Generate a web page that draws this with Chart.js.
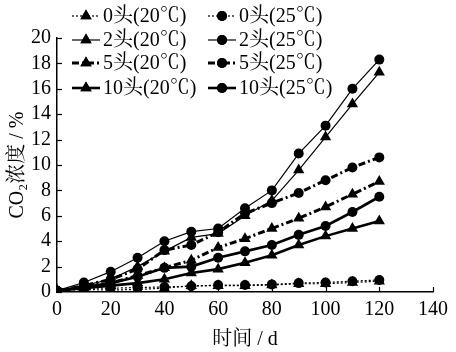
<!DOCTYPE html>
<html>
<head>
<meta charset="utf-8">
<script src="https://cdn.jsdelivr.net/npm/chart.js@4"></script>
<style>
  html, body { margin: 0; padding: 0; background: #fff; }
  #wrap { width: 456px; height: 352px; }
</style>
</head>
<body>
<div id="wrap"><canvas id="myChart" width="456" height="352"></canvas></div>
<script>
// sampling days
const days = [0, 10, 20, 30, 40, 50, 60, 70, 80, 90, 100, 110, 120];

// CO2 concentration (%)
const head0_20 = [0.1, 0.2, 0.15, 0.2, 0.3, 0.5, 0.5, 0.5, 0.55, 0.65, 0.65, 0.75, 0.85];
const head0_25 = [0.1, 0.3, 0.3, 0.35, 0.4, 0.45, 0.55, 0.55, 0.6, 0.7, 0.75, 0.85, 0.95];
const head2_20 = [0.1, 0.5, 1.0, 2.0, 3.2, 4.3, 4.6, 6.0, 7.2, 9.6, 12.2, 14.8, 17.3];
const head2_25 = [0.1, 0.75, 1.6, 2.7, 4.0, 4.75, 5.0, 6.6, 8.0, 10.9, 13.1, 16.0, 18.3];
const head5_20 = [0.1, 0.4, 0.7, 1.3, 1.9, 2.5, 3.5, 4.2, 5.0, 5.8, 6.7, 7.7, 8.7];
const head5_25 = [0.1, 0.5, 1.0, 1.8, 3.3, 3.7, 4.7, 6.2, 7.0, 7.8, 8.8, 9.8, 10.6];
const head10_20 = [0.1, 0.3, 0.5, 0.7, 1.0, 1.5, 1.8, 2.3, 2.9, 3.7, 4.4, 5.0, 5.6];
const head10_25 = [0.1, 0.4, 0.7, 1.2, 1.9, 2.0, 2.7, 3.2, 3.7, 4.5, 5.2, 6.3, 7.5];

const seriesNames = ['0头(20℃)', '0头(25℃)', '2头(20℃)', '2头(25℃)', '5头(20℃)', '5头(25℃)', '10头(20℃)', '10头(25℃)'];

const FONT = "'Liberation Serif', 'Noto Serif CJK SC', 'Noto Sans CJK SC', serif";

const toPoints = arr => arr.map((v, i) => ({ x: days[i], y: v }));

function makeSet(name, values, marker, width, dash) {
    return {
        label: name,
        data: toPoints(values),
        borderColor: '#000',
        backgroundColor: '#000',
        borderWidth: width,
        borderDash: dash,
        pointStyle: marker,
        pointRadius: marker === 'triangle' ? 6.5 : 5,
        pointBorderWidth: 0,
        tension: 0,
    };
}

const dotted = [2, 2];
const dashDot = [7, 3, 2, 3];

const datasets = [
    makeSet(seriesNames[0], head0_20, 'triangle', 1.2, dotted),
    makeSet(seriesNames[1], head0_25, 'circle', 1.2, dotted),
    makeSet(seriesNames[2], head2_20, 'triangle', 1.2, []),
    makeSet(seriesNames[3], head2_25, 'circle', 1.2, []),
    makeSet(seriesNames[4], head5_20, 'triangle', 3, dashDot),
    makeSet(seriesNames[5], head5_25, 'circle', 3, dashDot),
    makeSet(seriesNames[6], head10_20, 'triangle', 2.6, []),
    makeSet(seriesNames[7], head10_25, 'circle', 2.6, []),
];

// inward tick marks
const innerTicks = {
    id: 'innerTicks',
    afterDraw(chart) {
        const ctx = chart.ctx;
        const xs = chart.scales.x, ys = chart.scales.y;
        ctx.save();
        ctx.strokeStyle = '#000';
        ctx.lineWidth = 1.2;
        ys.ticks.forEach(t => {
            const py = Math.round(ys.getPixelForValue(t.value)) + 0.5;
            ctx.beginPath();
            ctx.moveTo(xs.left, py);
            ctx.lineTo(xs.left + 5, py);
            ctx.stroke();
        });
        xs.ticks.forEach(t => {
            const px = Math.round(xs.getPixelForValue(t.value)) + 0.5;
            ctx.beginPath();
            ctx.moveTo(px, ys.bottom);
            ctx.lineTo(px, ys.bottom - 5);
            ctx.stroke();
        });
        ctx.restore();
    }
};

// two-column legend drawn in the upper left
const legendBox = {
    id: 'legendBox',
    afterDraw(chart) {
        const ctx = chart.ctx;
        const rows = [16, 40, 63, 88];
        const cols = [{ x0: 72, x1: 100 }, { x0: 208, x1: 236 }];
        ctx.save();
        ctx.font = '20px ' + FONT;
        ctx.textBaseline = 'middle';
        chart.data.datasets.forEach((ds, i) => {
            const c = cols[i % 2];
            const y = rows[Math.floor(i / 2)];
            ctx.fillStyle = '#fff';
            ctx.fillRect(c.x0 - 2, y - 10, c.x1 - c.x0 + 4 + ctx.measureText(ds.label).width + 4, 20);
            ctx.fillStyle = '#000';
            ctx.strokeStyle = '#000';
            ctx.lineWidth = ds.borderWidth;
            ctx.setLineDash(ds.borderDash || []);
            ctx.beginPath();
            ctx.moveTo(c.x0, y);
            ctx.lineTo(c.x1, y);
            ctx.stroke();
            ctx.setLineDash([]);
            Chart.helpers.drawPoint(ctx, {
                pointStyle: ds.pointStyle,
                radius: ds.pointRadius,
                borderWidth: 0,
                rotation: 0
            }, (c.x0 + c.x1) / 2, y);
            ctx.fill();
            ctx.fillText(ds.label, c.x1 + 3, y + 1);
        });
        ctx.restore();
    }
};

const myCanvas = document.getElementById('myChart').getContext('2d');

const myChart = new Chart(myCanvas, {
    type: 'line',
    data: { datasets: datasets },
    plugins: [innerTicks, legendBox],
    options: {
        responsive: false,
        animation: false,
        layout: { padding: { top: 38, right: 23, left: 0, bottom: 0 } },
        scales: {
            x: {
                type: 'linear',
                min: 0,
                max: 140,
                ticks: { stepSize: 20, autoSkip: false, color: '#000', padding: 6, font: { size: 20, family: FONT } },
                grid: { drawOnChartArea: false, drawTicks: false },
                border: { color: '#000', width: 1.5 },
                title: { display: true, text: '时间 / d', color: '#000', padding: { top: 0, bottom: 0 }, font: { size: 20, family: FONT } },
                afterFit(scale) { scale.height = 60; }
            },
            y: {
                min: 0,
                max: 20,
                ticks: { stepSize: 2, autoSkip: false, color: '#000', padding: 6, font: { size: 20, family: FONT } },
                grid: { drawOnChartArea: false, drawTicks: false },
                border: { color: '#000', width: 1.5 },
                title: { display: true, text: 'CO₂浓度 / %', color: '#000', padding: { top: 6, bottom: 0 }, font: { size: 20, family: FONT } },
                afterFit(scale) { scale.width = 57; }
            }
        },
        plugins: {
            legend: { display: false },
            tooltip: { enabled: false }
        }
    }
});
</script>
</body>
</html>
